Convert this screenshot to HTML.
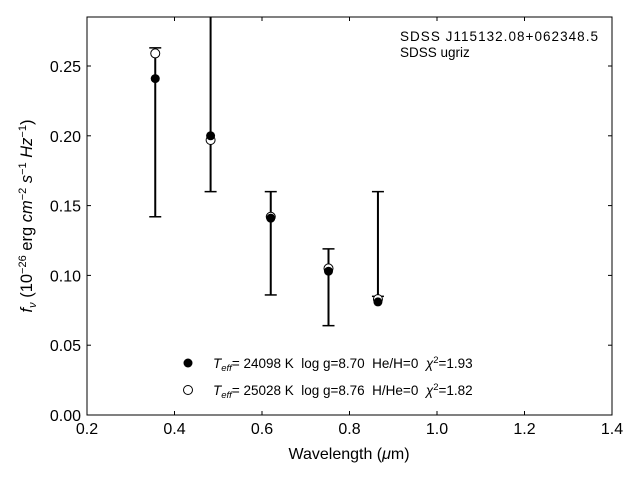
<!DOCTYPE html>
<html><head><meta charset="utf-8"><style>
body{margin:0;background:#fff;}
svg text{font-family:"Liberation Sans",sans-serif;white-space:pre;}
</style></head><body>
<svg id="chart" width="640" height="480" xmlns="http://www.w3.org/2000/svg">
<defs><clipPath id="clip"><rect x="87" y="17" width="525" height="398"/></clipPath></defs>
<rect x="87" y="17" width="525" height="398" fill="none" stroke="#000" stroke-width="1"/>
<g id="axes"></g>
<g id="marks" clip-path="url(#clip)"></g>
<text x="400" y="41" font-size="13.5" textLength="198">SDSS J115132.08+062348.5</text>
<text x="400" y="57" font-size="13.5">SDSS ugriz</text>
<text x="349" y="459" font-size="16" text-anchor="middle">Wavelength (<tspan font-style="italic">μ</tspan>m)</text>
<text transform="translate(32,216) rotate(-90)" font-size="16.5" text-anchor="middle"><tspan font-style="italic">f</tspan><tspan font-style="italic" font-size="11" dy="4">ν</tspan><tspan dy="-4"> (10</tspan><tspan font-size="11" dy="-6">−26</tspan><tspan dy="6"> erg </tspan><tspan font-style="italic">cm</tspan><tspan font-size="11" dy="-6">−2</tspan><tspan dy="6"> </tspan><tspan font-style="italic">s</tspan><tspan font-size="11" dy="-6">−1</tspan><tspan dy="6"> </tspan><tspan font-style="italic">Hz</tspan><tspan font-size="11" dy="-6">−1</tspan><tspan dy="6">)</tspan></text>
<g>
<circle cx="188" cy="363" r="4.5" fill="#000"/>
<text x="213" y="368" font-size="13.5"><tspan font-style="italic">T</tspan><tspan font-style="italic" font-size="9.5" dy="3">eff</tspan><tspan dy="-3">= 24098 K  log g=8.70  He/H=0  </tspan><tspan font-style="italic">χ</tspan><tspan font-size="9.5" dy="-5">2</tspan><tspan dy="5">=1.93</tspan></text>
<circle cx="188" cy="390" r="4.5" fill="#fff" stroke="#000"/>
<text x="213" y="395" font-size="13.5"><tspan font-style="italic">T</tspan><tspan font-style="italic" font-size="9.5" dy="3">eff</tspan><tspan dy="-3">= 25028 K  log g=8.76  H/He=0  </tspan><tspan font-style="italic">χ</tspan><tspan font-size="9.5" dy="-5">2</tspan><tspan dy="5">=1.82</tspan></text>
</g>
</svg>
<script>
const bands = ['u','g','r','i','z'];
const wavelengths = [0.356, 0.4825, 0.62, 0.752, 0.865];
const obsFlux = [0.2025, 0.23, 0.123, 0.0915, 0.1225];
const obsErr = [0.0605, 0.07, 0.037, 0.0275, 0.0375];
const modelH = [0.241, 0.200, 0.141, 0.103, 0.081];
const modelHe = [0.259, 0.197, 0.142, 0.105, 0.083];
const xTicks = [0.2,0.4,0.6,0.8,1.0,1.2,1.4];
const xTickLabels = ['0.2','0.4','0.6','0.8','1.0','1.2','1.4'];
const yTicks = [0,0.05,0.10,0.15,0.20,0.25];
const yTickLabels = ['0.00','0.05','0.10','0.15','0.20','0.25'];

const NS='http://www.w3.org/2000/svg';
function xs(v){return 87+(v-0.2)*437.5;}
function ys(v){return 415-v*1396;}
function mk(tag,attrs,parent){const e=document.createElementNS(NS,tag);for(const k in attrs)e.setAttribute(k,attrs[k]);parent.appendChild(e);return e;}
const axes=document.getElementById('axes'), marks=document.getElementById('marks');
xTicks.forEach((t,i)=>{
  const x=xs(t);
  let l=mk('line',{x1:x,x2:x,y1:415,y2:411,stroke:'#000'},axes);
  
  
  let l2=mk('line',{x1:x,x2:x,y1:17,y2:21,stroke:'#000'},axes);
  
  
  let tx=mk('text',{x:x,y:434,'font-size':16,'text-anchor':'middle'},axes);
  tx.textContent=xTickLabels[i];
  
  
});
yTicks.forEach((t,i)=>{
  const y=ys(t);
  let l=mk('line',{x1:87,x2:91,y1:y,y2:y,stroke:'#000'},axes);
  
  
  let l2=mk('line',{x1:608,x2:612,y1:y,y2:y,stroke:'#000'},axes);
  
  
  let tx=mk('text',{x:81,y:y+6,'font-size':16,'text-anchor':'end'},axes);
  tx.textContent=yTickLabels[i];
  
  
});
wavelengths.forEach((w,i)=>{
  const x=xs(w), lo=ys(obsFlux[i]-obsErr[i]), hi=ys(obsFlux[i]+obsErr[i]);
  const g=mk('g',{},marks);
  
  
  mk('line',{x1:x,x2:x,y1:lo,y2:hi,stroke:'#000','stroke-width':2},g);
  mk('line',{x1:x-6,x2:x+6,y1:lo,y2:lo,stroke:'#000','stroke-width':1.5},g);
  mk('line',{x1:x-6,x2:x+6,y1:hi,y2:hi,stroke:'#000','stroke-width':1.5},g);
});
wavelengths.forEach((w,i)=>{
  const c=mk('circle',{cx:xs(w),cy:ys(modelHe[i]),r:4.5,fill:'#fff',stroke:'#000'},marks);
  
  
});
wavelengths.forEach((w,i)=>{
  const c=mk('circle',{cx:xs(w),cy:ys(modelH[i]),r:4.5,fill:'#000'},marks);
  
  
});
</script>
</body></html>
